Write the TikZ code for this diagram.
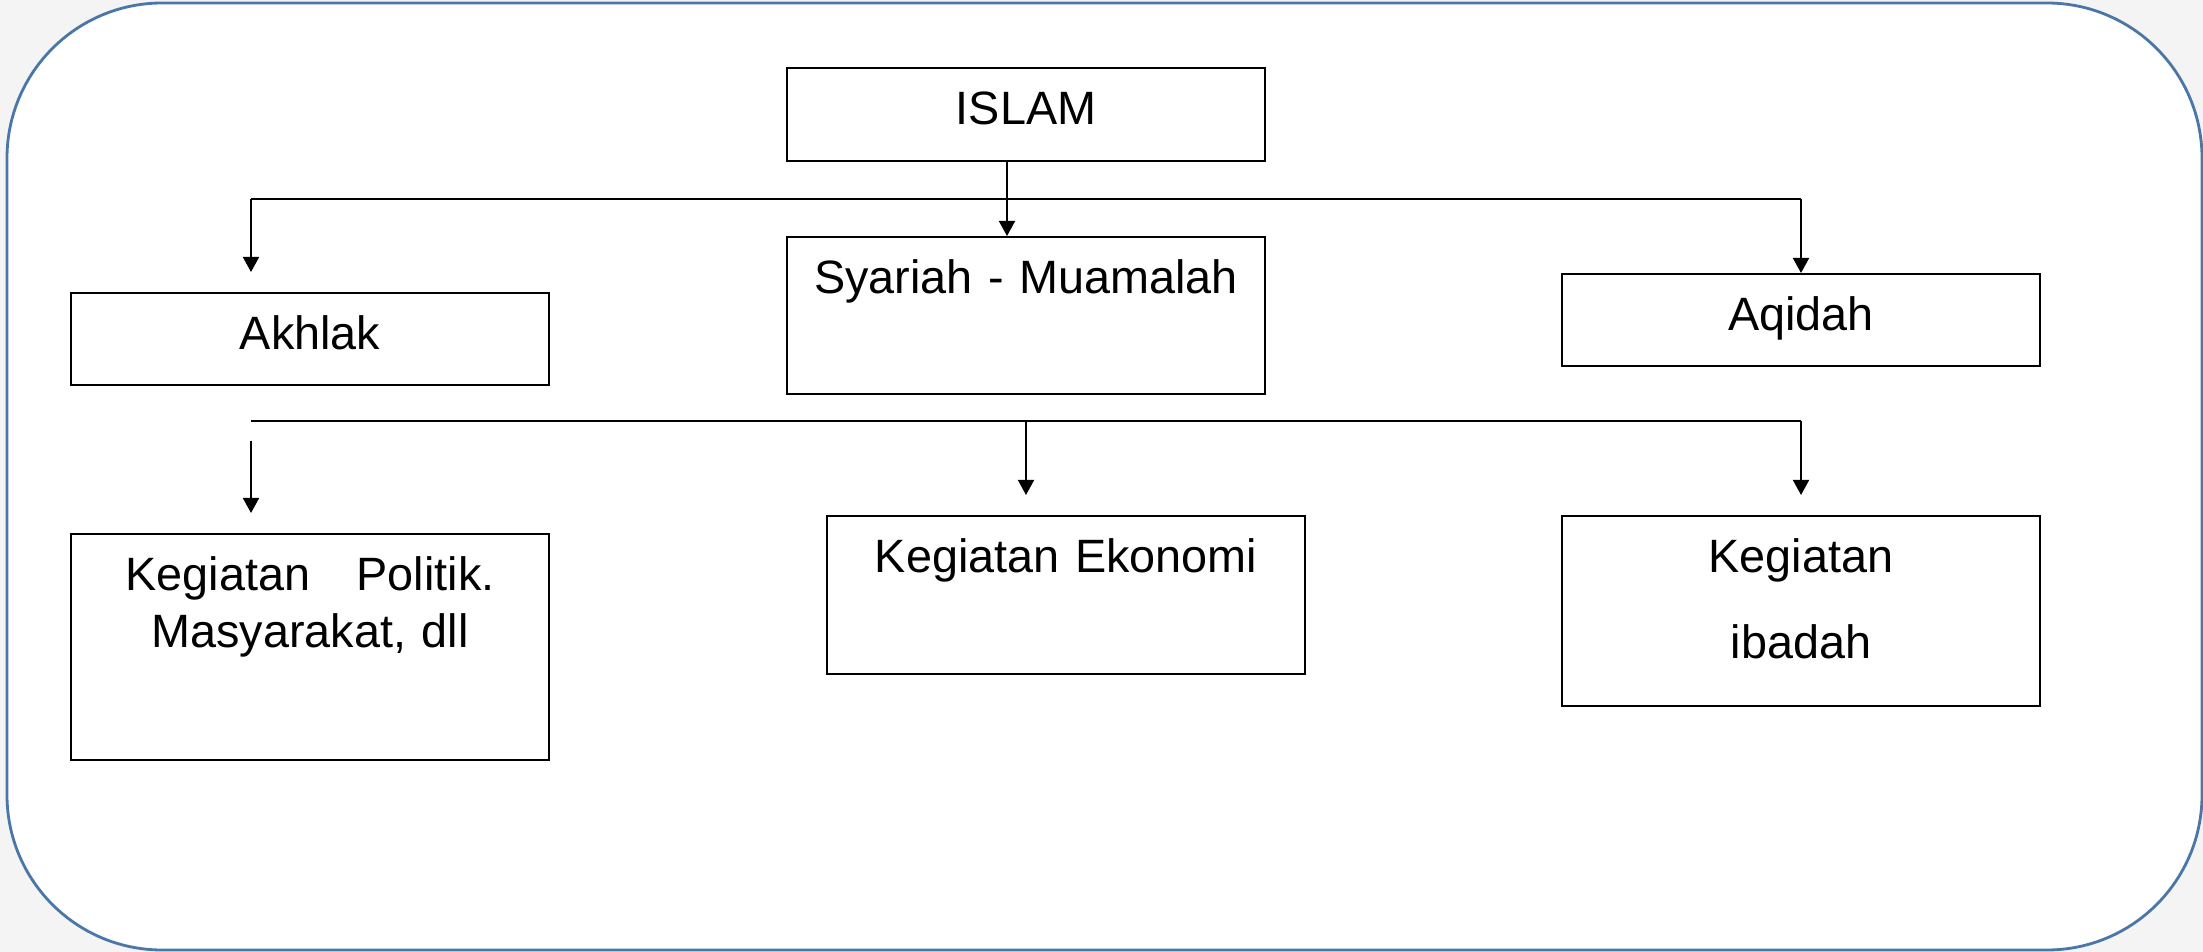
\documentclass[tikz,border=0pt]{standalone}
\usepackage{fontspec}
\setmainfont{Liberation Sans}
\usetikzlibrary{arrows.meta}
\definecolor{bingkai}{HTML}{4A77A8}
\definecolor{latar}{HTML}{F4F4F4}
\begin{document}
\begin{tikzpicture}[x=0.01cm,y=-0.01cm,
  kotak/.style={draw,line width=0.6pt,inner sep=0pt,anchor=north,text width=4.77cm,align=center,text height=0.56cm,font=\fontsize{13.3}{16.2}\selectfont},
  panah/.style={-{Triangle[length=0.15cm,width=0.16cm]},line width=0.5pt},
  garis/.style={line width=0.5pt}]
\useasboundingbox (0,0) rectangle (2203,952);
\fill[latar] (0,0) rectangle (2203,952);
\draw[bingkai,fill=white,line width=0.8pt,rounded corners=1.55cm] (7,3) rectangle (2202,950);
% kotak-kotak
\node (islam) at (1026,67) [kotak,text depth=0.37cm] {ISLAM};
\node (syariah) at (1026,236) [kotak,text depth=1.01cm] {Syariah - Muamalah};
\node (akhlak) at (310,292) [kotak,text depth=0.36cm] {Akhlak};
\node (aqidah) at (1801,273) [kotak,text depth=0.36cm] {Aqidah};
\node (politik) at (310,533) [kotak,text depth=1.70cm] {Kegiatan\quad Politik.\\Masyarakat, dll};
\node (ekonomi) at (1066,515) [kotak,text depth=1.02cm] {Kegiatan Ekonomi};
\node (ibadah) at (1801,515) [kotak,text depth=1.34cm,font=\fontsize{13.3}{24.7}\selectfont] {Kegiatan\\ibadah};
% titik cabang
\coordinate (cabang1) at (1007,199);
\coordinate (kiri1) at (251,199);
\coordinate (kanan1) at (1801,199);
\coordinate (kiri2) at (251,421);
\coordinate (tengah2) at (1026,421);
\coordinate (kanan2) at (1801,421);
\coordinate (mulai2) at (251,441);
% garis
\draw[garis] (islam.south -| cabang1) -- (cabang1);
\draw[panah] (cabang1) -- (syariah.north -| cabang1);
\draw[garis] (kiri1) -- (kanan1);
\draw[panah,shorten >=0.2cm] (kiri1) -- (akhlak.north -| kiri1);
\draw[panah] (kanan1) -- (aqidah.north);
\draw[garis] (kiri2) -- (kanan2);
\draw[panah,shorten >=0.2cm] (mulai2) -- (politik.north -| mulai2);
\draw[panah,shorten >=0.2cm] (tengah2) -- (ekonomi.north -| tengah2);
\draw[panah,shorten >=0.2cm] (kanan2) -- (ibadah.north);
\end{tikzpicture}
\end{document}
